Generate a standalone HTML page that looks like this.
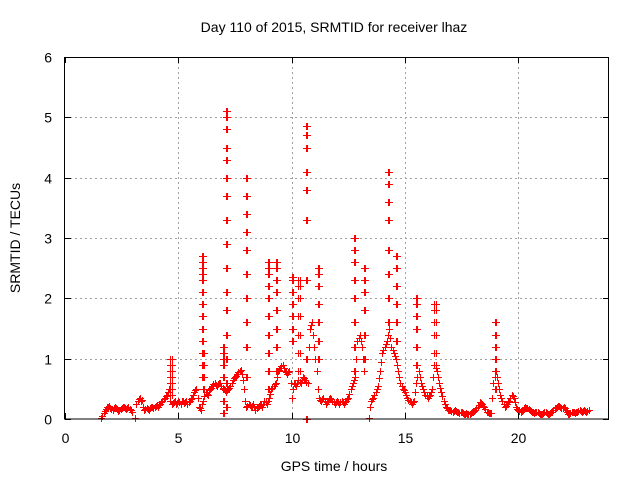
<!DOCTYPE html>
<html><head><meta charset="utf-8"><style>
html,body{margin:0;padding:0;background:#fff;}
svg{display:block;font-family:"Liberation Sans",sans-serif;}
</style></head><body>
<svg id="chart" width="640" height="480" viewBox="0 0 640 480" xmlns="http://www.w3.org/2000/svg">
<text x="334" y="32" font-size="14" text-anchor="middle">Day 110 of 2015, SRMTID for receiver lhaz</text>
<text x="334" y="471" font-size="14" text-anchor="middle">GPS time / hours</text>
<text x="20" y="238" font-size="14" text-anchor="middle" transform="rotate(-90 20 238)">SRMTID / TECUs</text>
<g id="grid"></g>
<g id="marks"></g>
<rect x="64.5" y="57.5" width="544" height="361.5" fill="none" stroke="#000" stroke-width="1"/>
<g id="ticks"></g>
</svg>
<script>
const xTicks=[0,5,10,15,20];
const yTicks=[0,1,2,3,4,5,6];
const baseStart=1.6;
const baseStep=0.1;
const baseValues=[0.02,0.1,0.17,0.2,0.18,0.15,0.2,0.17,0.15,0.18,0.2,0.17,0.2,0.15,null,0.02,0.3,0.35,0.32,0.15,0.18,0.15,0.2,0.18,0.22,0.2,0.25,0.3,0.35,0.4,0.5,0.25,0.28,0.25,0.3,0.25,0.3,0.28,0.25,0.3,0.35,0.45,0.5,0.2,0.15,0.3,0.45,0.4,0.5,0.55,0.6,0.55,0.6,0.55,0.5,0.45,0.5,0.55,0.65,0.7,0.75,0.8,0.75,0.5,0.2,0.25,0.2,0.25,0.15,0.2,0.25,0.2,0.3,0.25,0.35,0.5,0.55,0.6,0.8,0.85,0.9,0.8,0.75,0.8,0.35,0.6,0.55,0.65,0.6,0.7,0.65,0.6,1.5,1.6,1.2,0.8,0.35,0.3,0.35,0.25,0.3,0.35,0.3,0.25,0.3,0.25,0.3,0.25,0.3,0.35,0.5,0.6,0.7,1.3,1.4,1.2,0.8,null,0.02,0.3,0.35,0.45,0.55,0.8,1.1,1.2,1.3,1.5,1.2,1.1,1.0,0.8,0.6,0.5,0.45,0.35,0.3,0.25,0.3,0.6,0.8,0.6,0.5,0.4,0.35,0.4,0.5,0.9,0.8,0.6,0.45,0.3,0.2,0.15,0.15,0.12,0.15,0.12,0.1,0.12,0.08,0.1,0.08,0.1,0.12,0.15,0.2,0.28,0.25,0.2,0.12,0.1,0.1,0.6,0.8,0.6,0.4,0.3,0.2,0.25,0.3,0.4,0.35,0.2,0.15,0.12,0.15,0.2,0.18,0.15,0.12,0.1,0.12,0.1,0.08,0.1,0.12,0.08,0.1,0.12,0.18,0.2,0.22,0.18,0.2,0.15,0.08,0.1,0.12,0.1,0.12,0.15,0.12,0.15,0.12,0.15];
const base2Start=1.65;
const baseValues2=[0.05,0.14,0.2,0.22,0.16,0.18,0.19,0.14,0.17,0.2,0.18,0.19,0.17,0.12,null,0.25,0.33,0.3,0.2,0.17,0.16,0.19,0.2,0.2,0.24,0.23,0.28,0.33,0.38,0.45,0.3,0.27,0.3,0.27,0.28,0.3,0.26,0.3,0.28,0.33,0.4,0.48,0.35,0.18,0.25,0.38,0.42,0.48,0.52,0.58,0.57,0.58,0.6,0.52,0.48,0.48,0.52,0.6,0.68,0.72,0.78,0.82,0.65,0.3,0.22,0.23,0.22,0.2,0.18,0.22,0.23,0.25,0.28,0.3,0.42,0.52,0.58,0.7,0.82,0.88,0.85,0.78,0.78,0.6,0.5,0.58,0.6,0.62,0.65,0.68,0.62,1.2,1.55,1.4,1.0,0.5,0.32,0.33,0.3,0.28,0.33,0.33,0.28,0.28,0.28,0.28,0.28,0.28,0.33,0.42,0.55,0.65,1.0,1.35,1.3,1.0,null,null,0.2,0.33,0.4,0.5,0.68,0.95,1.15,1.25,1.4,1.35,1.15,1.05,0.9,0.7,0.55,0.48,0.4,0.32,0.28,0.28,0.45,0.7,0.7,0.55,0.45,0.38,0.38,0.45,0.7,0.85,0.7,0.52,0.38,0.25,0.18,0.15,0.13,0.14,0.13,0.11,0.11,0.1,0.09,0.09,0.09,0.11,0.13,0.18,0.24,0.27,0.22,0.16,0.11,0.1,0.35,0.7,0.7,0.5,0.35,0.25,0.22,0.28,0.35,0.38,0.28,0.17,0.13,0.13,0.18,0.19,0.16,0.13,0.11,0.11,0.11,0.09,0.09,0.11,0.1,0.09,0.11,0.15,0.19,0.21,0.2,0.19,0.18,0.12,0.09,0.11,0.11,0.11,0.13,0.13,0.13,0.13,0.13];
const spikeTimes=[4.65,6.05,6.1,6.95,7.1,7.98,8.95,9.3,10.0,10.3,10.62,11.15,12.75,13.2,14.25,14.6,15.5,16.3,18.95];
const spikeValues=[
[0.4,0.5,0.6,0.7,0.8,0.9,1.0],
[0.7,0.9,1.1,1.3,1.5,1.7,1.9,2.1,2.3,2.4,2.5,2.6,2.7],
[0.5,0.7,0.9,1.1],
[0.1,0.3,0.5,0.7,0.9,1.0,1.1,1.2],
[0.2,0.6,1.0,1.4,1.8,2.1,2.5,2.9,3.3,3.7,4.0,4.3,4.5,4.8,5.0,5.1],
[0.7,1.2,1.6,2.0,2.4,2.8,3.1,3.4,3.7,4.0],
[0.5,0.8,1.1,1.4,1.7,2.0,2.2,2.4,2.5,2.6],
[0.8,1.2,1.5,1.8,2.1,2.3,2.5,2.6],
[1.3,1.5,1.7,1.9,2.1,2.3,2.35],
[0.8,1.1,1.4,1.7,2.0,2.2,2.3],
[0.0,1.0,2.3,3.3,3.8,4.1,4.5,4.7,4.85],
[1.0,1.3,1.6,1.9,2.2,2.4,2.5],
[0.8,1.2,1.6,2.0,2.3,2.6,2.8,3.0],
[1.0,1.4,1.8,2.1,2.3,2.5],
[1.6,2.0,2.4,2.8,3.3,3.6,3.9,4.1],
[1.3,1.6,1.9,2.2,2.5,2.7],
[0.9,1.2,1.5,1.7,1.9,2.0],
[0.9,1.1,1.4,1.6,1.8,1.9],
[0.5,0.8,1.0,1.2,1.4,1.6]];
const X0=65,X1=609,Y0=419,Y1=57;
function xs(t){return X0+(t/24)*(X1-X0);}
function ys(v){return Y0-(v/6)*(Y0-Y1);}
const NS="http://www.w3.org/2000/svg";
const grid=document.getElementById('grid'),ticks=document.getElementById('ticks'),marks=document.getElementById('marks');
function mk(tag,attrs,parent){const e=document.createElementNS(NS,tag);for(const k in attrs)e.setAttribute(k,attrs[k]);parent.appendChild(e);return e;}
xTicks.forEach(t=>{const x=Math.round(xs(t))+0.5;
 if(t>0){const g=mk('line',{x1:x,x2:x,y1:Y1,y2:Y0,stroke:'#a0a0a0','stroke-dasharray':'2,3'},grid);}
 const a=mk('line',{x1:x,x2:x,y1:Y0,y2:Y0-6,stroke:'#000'},ticks);
 const b=mk('line',{x1:x,x2:x,y1:Y1,y2:Y1+6,stroke:'#000'},ticks);
 const l=mk('text',{x:x,y:443,'font-size':14,'text-anchor':'middle'},ticks);l.textContent=t;});
yTicks.forEach(v=>{const y=Math.round(ys(v))+0.5;
 if(v>0&&v<6){const g=mk('line',{x1:X0,x2:X1,y1:y,y2:y,stroke:'#a0a0a0','stroke-dasharray':'2,3'},grid);}
 const a=mk('line',{x1:X0,x2:X0+6,y1:y,y2:y,stroke:'#000'},ticks);
 const b=mk('line',{x1:X1-6,x2:X1,y1:y,y2:y,stroke:'#000'},ticks);
 const l=mk('text',{x:52,y:y+5,'font-size':14,'text-anchor':'end'},ticks);l.textContent=v;});
let d='';
function plus(t,v){const x=Math.round(xs(t))+0.5,y=Math.round(ys(v))+0.5;d+=`M${x-3.5} ${y}h7M${x} ${y-3.5}v7`;}
baseValues.forEach((v,i)=>{if(v!==null)plus(baseStart+i*baseStep,v);});
baseValues2.forEach((v,i)=>{if(v!==null)plus(base2Start+i*baseStep,v);});
spikeTimes.forEach((t,i)=>{spikeValues[i].forEach(v=>{plus(t,v);plus(t+0.05,v);});});
const p=mk('path',{d:d,stroke:'#ff0000','stroke-width':1,fill:'none','shape-rendering':'crispEdges'},marks);


</script>
</body></html>
